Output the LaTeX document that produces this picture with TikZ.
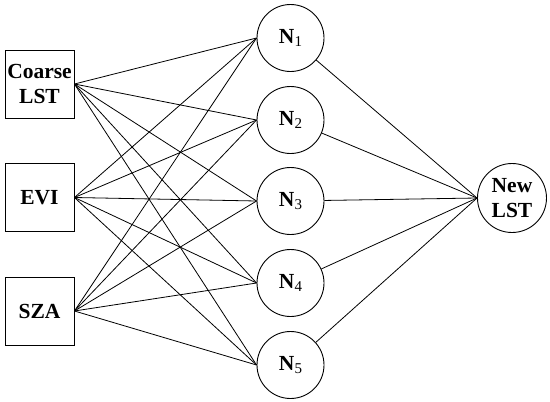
\documentclass[tikz,border=0pt]{standalone}
\usepackage{fontspec}
\setmainfont{Liberation Serif}
\newcommand{\nsub}[1]{\raisebox{-0.3ex}{\fontsize{15}{15}\selectfont\mdseries #1}}
\begin{document}
\begin{tikzpicture}[x=1pt,y=-1pt,
  box/.style={draw,line width=0.9pt,minimum width=69pt,minimum height=68pt,inner sep=0pt,align=center,font=\fontsize{21.5}{25}\selectfont\bfseries},
  neuron/.style={draw,circle,line width=0.9pt,minimum size=67pt,inner sep=0pt,align=center,font=\fontsize{21.5}{25}\selectfont\bfseries},
  link/.style={line width=0.8pt}]
\useasboundingbox (0,0) rectangle (550,402);
\node[box] (c) at (39.5,84) {Coarse\\LST};
\node[box] (e) at (39.5,197.5) {EVI};
\node[box] (s) at (39.5,311) {SZA};
\node[neuron] (n1) at (290.5,38) {N\nsub{1}};
\node[neuron] (n2) at (290.5,120) {N\nsub{2}};
\node[neuron] (n3) at (290.5,201) {N\nsub{3}};
\node[neuron] (n4) at (290.5,283) {N\nsub{4}};
\node[neuron] (n5) at (290.5,365) {N\nsub{5}};
\node[neuron,minimum size=69pt] (o) at (512,198) {New\\LST};
\foreach \a in {c,e,s}{
  \foreach \b in {n1,n2,n3,n4,n5}{
    \draw[link] (\a.east) -- (\b.west);
  }
}
\foreach \b in {n1,n2,n3,n4,n5}{
  \draw[link] (\b) -- (o.west);
}
\end{tikzpicture}
\end{document}
